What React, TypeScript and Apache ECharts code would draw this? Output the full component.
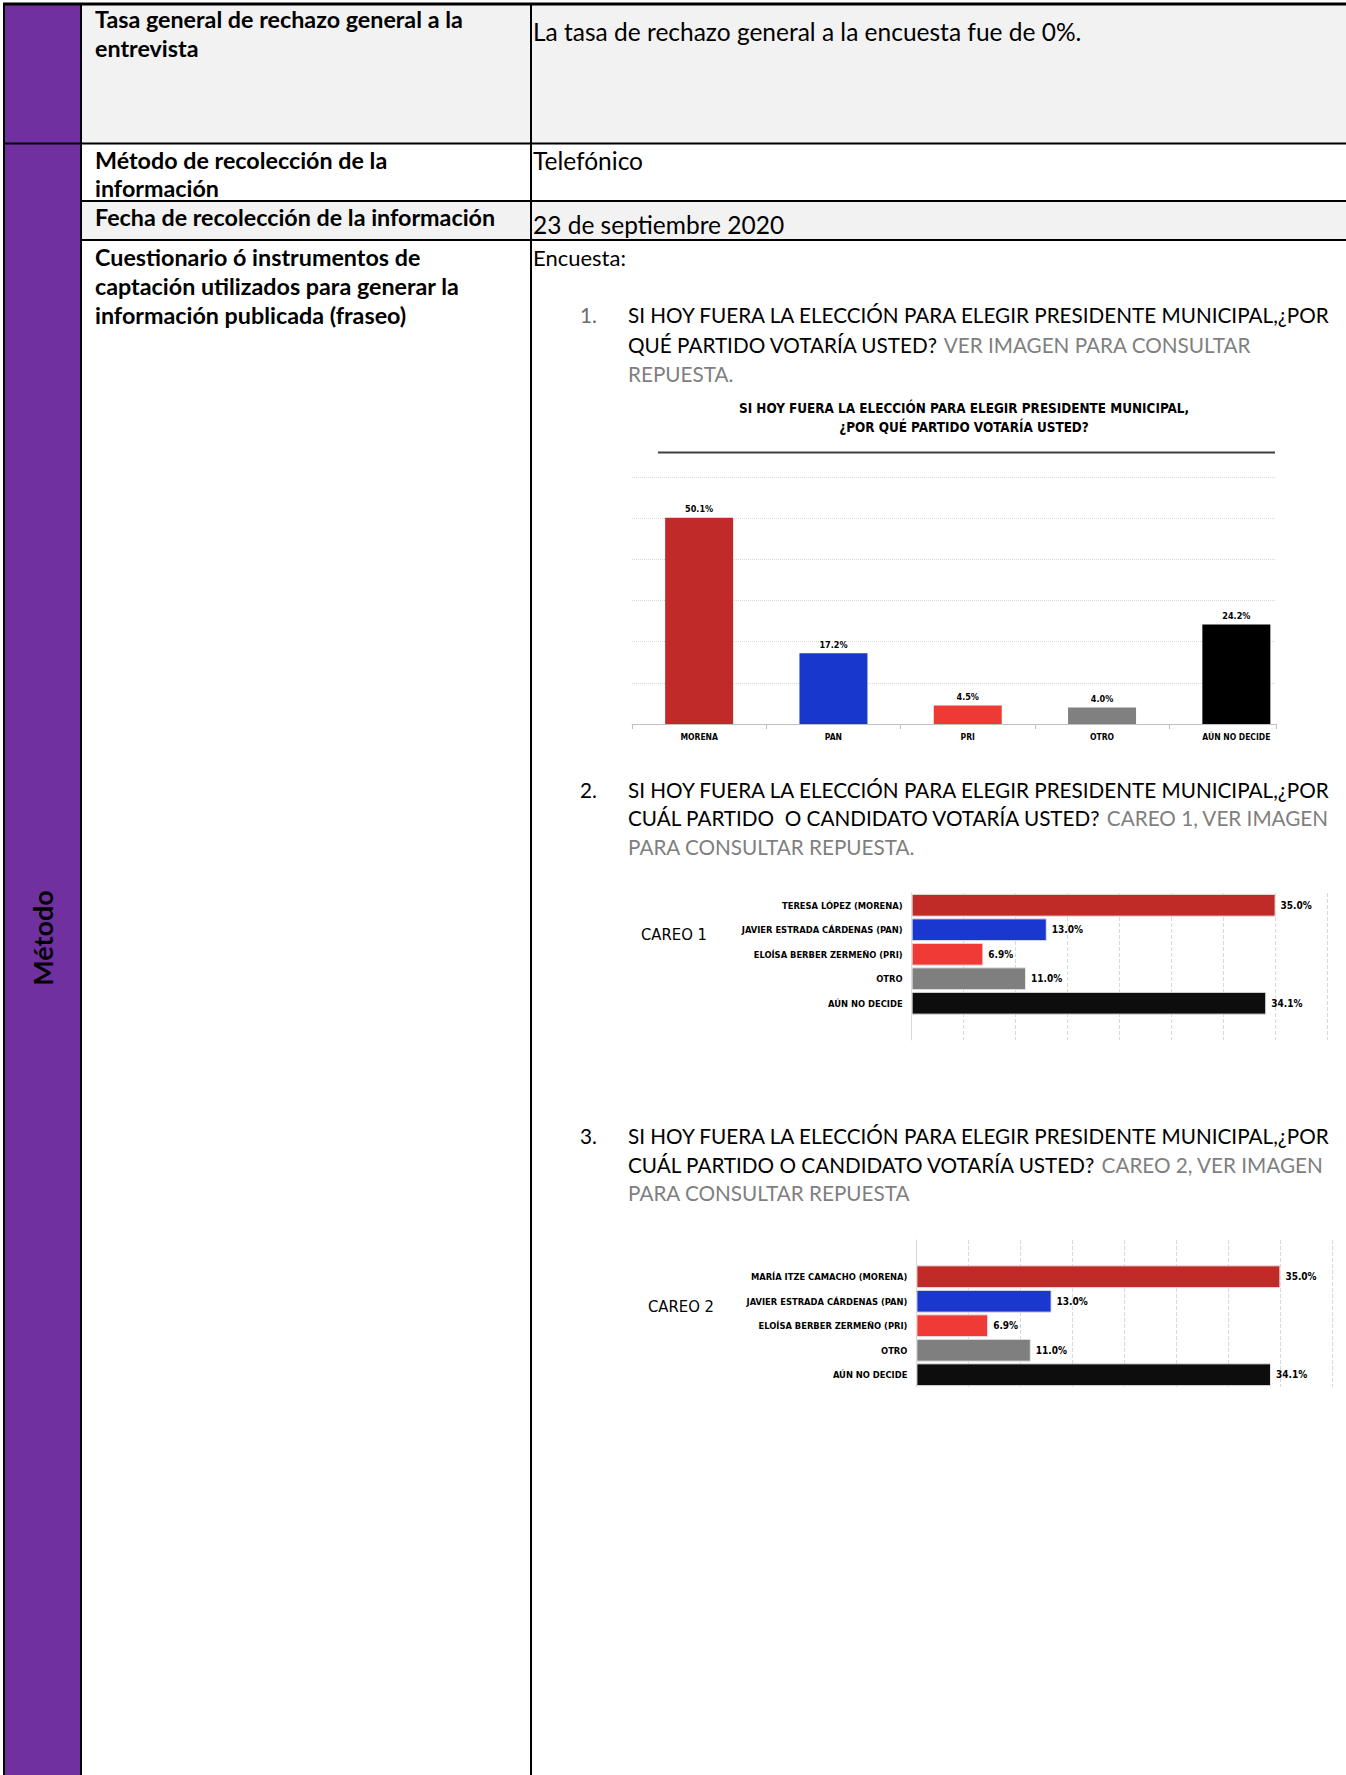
import React, { useEffect, useRef } from "react";
import * as echarts from "echarts";

// ---- data ----
const partyCategories = ["MORENA", "PAN", "PRI", "OTRO", "AÚN NO DECIDE"];
const partyValues = [50.1, 17.2, 4.5, 4.0, 24.2];
const partyColors = ["#c02a28", "#1837cd", "#ee3a34", "#808080", "#000000"];

const careo1Labels = [
  "TERESA LÓPEZ (MORENA)",
  "JAVIER ESTRADA CÁRDENAS (PAN)",
  "ELOÍSA BERBER ZERMEÑO (PRI)",
  "OTRO",
  "AÚN NO DECIDE",
];
const careo1Values = [35.0, 13.0, 6.9, 11.0, 34.1];

const careo2Labels = [
  "MARÍA ITZE CAMACHO (MORENA)",
  "JAVIER ESTRADA CÁRDENAS (PAN)",
  "ELOÍSA BERBER ZERMEÑO (PRI)",
  "OTRO",
  "AÚN NO DECIDE",
];
const careo2Values = [35.0, 13.0, 6.9, 11.0, 34.1];
const careoColors = ["#c02b28", "#1a37cf", "#ef3a36", "#7f7f7f", "#0d0d0d"];

const BODY = "Lato, 'Open Sans', sans-serif";
const NARROW = "'Liberation Sans Narrow', 'DejaVu Sans Condensed', Lato, sans-serif";
const GREY_TXT = "#7f7f7f";

function txt(x: number, y: number, text: string, size: number, opts: any = {}) {
  return {
    type: "text",
    x,
    y,
    silent: true,
    rotation: opts.rotation || 0,
    style: {
      text,
      font: `${opts.bold ? "bold " : ""}${size}px ${opts.family || BODY}`,
      fill: opts.fill || "#000",
      textAlign: opts.align || "left",
      textVerticalAlign: "middle",
      rich: opts.rich,
    },
  };
}

function hline(x1: number, x2: number, y: number, w = 2) {
  return { type: "line", silent: true, shape: { x1, y1: y, x2, y2: y }, style: { stroke: "#000", lineWidth: w } };
}
function vline(x: number, y1: number, y2: number, w = 2) {
  return { type: "line", silent: true, shape: { x1: x, y1, x2: x, y2 }, style: { stroke: "#000", lineWidth: w } };
}

const richQ = (size: number) => ({
  k: { fill: "#000", font: `${size}px ${BODY}` },
  g: { fill: GREY_TXT, font: `${size}px ${BODY}` },
});

export default function App() {
  const ref = useRef<HTMLDivElement>(null);
  useEffect(() => {
    if (!ref.current) return;
    const chart = echarts.init(ref.current, null, { renderer: "svg" });
    const W = 1346;
    const H = 1775;
    const qs = 20.7;
    const hs = 23.3;
    const bs = 24.5;
    const graphic: any[] = [
      // backgrounds
      { type: "rect", silent: true, shape: { x: 0, y: 0, width: W, height: H }, style: { fill: "#ffffff" } },
      { type: "rect", silent: true, shape: { x: 81, y: 4, width: W - 81, height: 140 }, style: { fill: "#f2f2f2" } },
      { type: "rect", silent: true, shape: { x: 81, y: 201, width: W - 81, height: 39 }, style: { fill: "#f2f2f2" } },
      { type: "rect", silent: true, shape: { x: 4, y: 4, width: 77, height: H }, style: { fill: "#7030a0" } },
      // borders
      hline(3, W, 4, 3),
      hline(3, W, 143.6, 2),
      hline(81, W, 201, 2),
      hline(81, W, 240, 2),
      vline(4, 3, H, 2),
      vline(81, 3, H, 2),
      vline(531, 3, H, 2),
      // rotated label
      txt(42, 938, "Método", 27, { bold: true, align: "center", rotation: Math.PI / 2 }),
      // column 2
      txt(95, 19, "Tasa general de rechazo general a la", hs, { bold: true }),
      txt(95, 47.5, "entrevista", hs, { bold: true }),
      txt(95, 159.5, "Método de recolección de la", hs, { bold: true }),
      txt(95, 188, "información", hs, { bold: true }),
      txt(95, 217, "Fecha de recolección de la información", hs, { bold: true }),
      txt(95, 257, "Cuestionario ó instrumentos de", hs, { bold: true }),
      txt(95, 286, "captación utilizados para generar la", hs, { bold: true }),
      txt(95, 314.5, "información publicada (fraseo)", hs, { bold: true }),
      // column 3
      txt(533, 31, "La tasa de rechazo general a la encuesta fue de 0%.", bs),
      txt(533, 160.6, "Telefónico", bs),
      txt(533, 224, "23 de septiembre 2020", bs),
      txt(533, 257, "Encuesta:", 22),
      // question 1
      txt(580, 314.5, "1.", qs, { fill: "#6b6b6b" }),
      txt(628, 314.5, "SI HOY FUERA LA ELECCIÓN PARA ELEGIR PRESIDENTE MUNICIPAL,¿POR", qs),
      txt(628, 345, "{k|QUÉ PARTIDO VOTARÍA USTED? }{g|VER IMAGEN PARA CONSULTAR}", qs, { rich: richQ(qs) }),
      txt(628, 374, "REPUESTA.", qs, { fill: GREY_TXT }),
      // chart 1 title
      txt(964, 408, "SI HOY FUERA LA ELECCIÓN PARA ELEGIR PRESIDENTE MUNICIPAL,", 13.4, { bold: true, align: "center", family: NARROW }),
      txt(964, 427.5, "¿POR QUÉ PARTIDO VOTARÍA USTED?", 13.4, { bold: true, align: "center", family: NARROW }),
      { type: "line", silent: true, shape: { x1: 658, y1: 452.5, x2: 1275, y2: 452.5 }, style: { stroke: "#404040", lineWidth: 2 } },
      // question 2
      txt(580, 789.5, "2.", qs),
      txt(628, 789.5, "SI HOY FUERA LA ELECCIÓN PARA ELEGIR PRESIDENTE MUNICIPAL,¿POR", qs),
      txt(628, 818, "{k|CUÁL PARTIDO  O CANDIDATO VOTARÍA USTED? }{g|CAREO 1, VER IMAGEN}", qs, { rich: richQ(qs) }),
      txt(628, 847, "PARA CONSULTAR REPUESTA.", qs, { fill: GREY_TXT }),
      txt(641, 934, "CAREO 1", 16.5, { family: NARROW }),
      // question 3
      txt(580, 1135.5, "3.", qs),
      txt(628, 1135.5, "SI HOY FUERA LA ELECCIÓN PARA ELEGIR PRESIDENTE MUNICIPAL,¿POR", qs),
      txt(628, 1165, "{k|CUÁL PARTIDO O CANDIDATO VOTARÍA USTED? }{g|CAREO 2, VER IMAGEN}", qs, { rich: richQ(qs) }),
      txt(628, 1193, "PARA CONSULTAR REPUESTA", qs, { fill: GREY_TXT }),
      txt(648, 1306, "CAREO 2", 16.5, { family: NARROW }),
    ];

    const pct = (p: any) => (typeof p.value === "number" ? p.value.toFixed(1) + "%" : "");
    const careoLabelStyle = { fontFamily: NARROW, fontWeight: "bold", fontSize: 9.3, color: "#000", margin: 9 };
    const valueLabel = { show: true, position: "right", distance: 5, fontFamily: NARROW, fontWeight: "bold", fontSize: 10, color: "#000", formatter: pct };

    // chart 1 geometry: category band is wider than the drawn plot area (as in the source)
    const c1Left = 632;
    const c1Band = 134.3;
    const c1PlotW = 644;
    const c1BandsW = c1Band * partyCategories.length;

    const option: any = {
      animation: false,
      backgroundColor: "#ffffff",
      graphic,
      grid: [
        { left: c1Left, top: 477, width: c1BandsW, height: 247 },
        { left: c1Left, top: 477, width: c1PlotW, height: 247 },
        { left: 911.6, top: 893, width: 416, height: 147 },
        { left: 916.4, top: 1240, width: 416, height: 147 },
      ],
      xAxis: [
        {
          type: "category",
          gridIndex: 0,
          data: partyCategories,
          axisLine: { show: false },
          axisTick: { show: false },
          axisLabel: { fontFamily: NARROW, fontWeight: "bold", fontSize: 8.5, color: "#000", margin: 8 },
        },
        {
          type: "value",
          gridIndex: 1,
          min: 0,
          max: c1PlotW / c1Band,
          interval: 1,
          axisLabel: { show: false },
          axisLine: { show: true, lineStyle: { color: "#bfbfbf", width: 1 } },
          axisTick: { show: true, length: 5, lineStyle: { color: "#bfbfbf" } },
          splitLine: { show: false },
        },
        {
          type: "value",
          gridIndex: 2,
          min: 0,
          max: 40,
          interval: 5,
          axisLabel: { show: false },
          axisLine: { show: false },
          axisTick: { show: false },
          splitLine: { lineStyle: { color: "#d9d9d9", type: "dashed" } },
        },
        {
          type: "value",
          gridIndex: 3,
          min: 0,
          max: 40,
          interval: 5,
          axisLabel: { show: false },
          axisLine: { show: false },
          axisTick: { show: false },
          splitLine: { lineStyle: { color: "#d9d9d9", type: "dashed" } },
        },
      ],
      yAxis: [
        {
          type: "value",
          gridIndex: 0,
          min: 0,
          max: 60,
          interval: 10,
          axisLabel: { show: false },
          axisLine: { show: false },
          axisTick: { show: false },
          splitLine: { show: false },
        },
        {
          type: "value",
          gridIndex: 1,
          min: 0,
          max: 60,
          interval: 10,
          axisLabel: { show: false },
          axisLine: { show: false },
          axisTick: { show: false },
          splitLine: { lineStyle: { color: "#d9d9d9", type: "dotted" } },
        },
        {
          type: "category",
          gridIndex: 2,
          inverse: true,
          data: [...careo1Labels, ""],
          axisLine: { show: true, lineStyle: { color: "#d9d9d9" } },
          axisTick: { show: false },
          axisLabel: careoLabelStyle,
        },
        {
          type: "category",
          gridIndex: 3,
          inverse: true,
          data: ["", ...careo2Labels],
          axisLine: { show: true, lineStyle: { color: "#d9d9d9" } },
          axisTick: { show: false },
          axisLabel: careoLabelStyle,
        },
      ],
      series: [
        {
          type: "bar",
          xAxisIndex: 0,
          yAxisIndex: 0,
          barWidth: 68,
          data: partyValues.map((v, i) => ({ value: v, itemStyle: { color: partyColors[i] } })),
          label: { show: true, position: "top", distance: 4, fontFamily: NARROW, fontWeight: "bold", fontSize: 9, color: "#000", formatter: pct },
          z: 3,
        },
        {
          type: "bar",
          xAxisIndex: 2,
          yAxisIndex: 2,
          barCategoryGap: "7%",
          data: [...careo1Values.map((v, i) => ({ value: v, itemStyle: { color: careoColors[i], borderColor: "#e6e6e6", borderWidth: 1 } })), "-"],
          label: valueLabel,
        },
        {
          type: "bar",
          xAxisIndex: 3,
          yAxisIndex: 3,
          barCategoryGap: "7%",
          data: ["-", ...careo2Values.map((v, i) => ({ value: v, itemStyle: { color: careoColors[i], borderColor: "#e6e6e6", borderWidth: 1 } }))],
          label: valueLabel,
        },
      ],
    };
    chart.setOption(option);
    return () => chart.dispose();
  }, []);
  return <div ref={ref} style={{ position: "absolute", left: 0, top: 0, width: 1346, height: 1775, background: "#fff" }} />;
}
